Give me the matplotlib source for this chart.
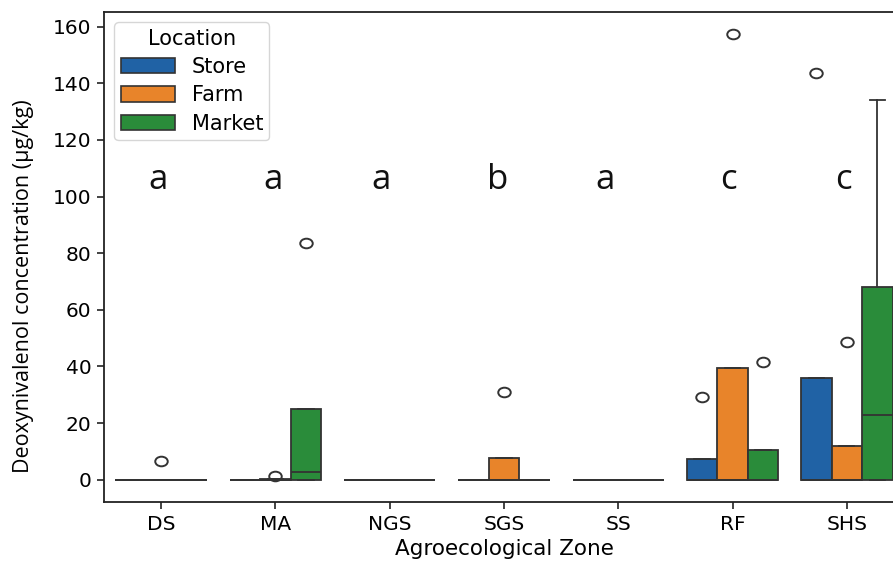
import numpy as np
import matplotlib
matplotlib.use("Agg")
import matplotlib.pyplot as plt
from matplotlib.patches import Patch
from matplotlib.path import Path

# ---------------- data ----------------
zones = ["DS", "MA", "NGS", "SGS", "SS", "RF", "SHS"]
locations = ["Store", "Farm", "Market"]
colors = ["#2062a5", "#e8842a", "#2a8c3a"]

# box summary statistics per location (one value per zone)
store_q1 = [0, 0, 0, 0, 0, 0, 0]
store_med = [0, 0, 0, 0, 0, 0, 0]
store_q3 = [0, 0, 0, 0, 0, 7.2, 35.8]
store_whishi = [0, 0, 0, 0, 0, 7.2, 35.8]
store_fliers = [[], [], [], [], [], [29.1], [143.6]]

farm_q1 = [0, 0, 0, 0, 0, 0, 0]
farm_med = [0, 0, 0, 0, 0, 0, 0]
farm_q3 = [0, 0.3, 0, 7.7, 0, 39.4, 12.0]
farm_whishi = [0, 0.3, 0, 7.7, 0, 39.4, 12.0]
farm_fliers = [[6.7], [1.4], [], [30.8], [], [157.5], [48.5]]

market_q1 = [0, 0, 0, 0, 0, 0, 0]
market_med = [0, 2.8, 0, 0, 0, 0, 23.0]
market_q3 = [0, 25.0, 0, 0, 0, 10.3, 68.0]
market_whishi = [0, 25.0, 0, 0, 0, 10.3, 134.0]
market_fliers = [[], [83.7], [], [], [], [41.5], []]

sig_letters = ["a", "a", "a", "b", "a", "c", "c"]
sig_level = 102.5
sig_offsets = [-0.03, -0.02, -0.08, -0.06, -0.12, -0.04, -0.03]

y_ticks = [0, 20, 40, 60, 80, 100, 120, 140, 160]

series = [
    (store_q1, store_med, store_q3, store_whishi, store_fliers),
    (farm_q1, farm_med, farm_q3, farm_whishi, farm_fliers),
    (market_q1, market_med, market_q3, market_whishi, market_fliers),
]

# ---------------- plot ----------------
W, H = 893, 562
fig = plt.figure(figsize=(W / 100, H / 100), dpi=100)
ax = fig.add_axes([104 / W, 1 - 502 / H, 800 / W, 490 / H])

line_col = "#333333"
lw = 1.3
box_w = 0.8 / 3

circ = Path.unit_circle()
ell = Path(circ.vertices * np.array([1.3, 1.0]), circ.codes)

x = np.arange(len(zones))
for h, (q1, med, q3, whi, fl) in enumerate(series):
    stats = []
    for i in range(len(zones)):
        stats.append(dict(q1=q1[i], med=med[i], q3=q3[i], whislo=q1[i],
                          whishi=whi[i], fliers=fl[i]))
    pos = x + (h - 1) * box_w
    ax.bxp(stats, positions=pos, widths=box_w * 0.999, patch_artist=True,
           showfliers=True, manage_ticks=False,
           boxprops=dict(facecolor=colors[h], edgecolor=line_col, linewidth=lw),
           medianprops=dict(color=line_col, linewidth=lw),
           whiskerprops=dict(color=line_col, linewidth=lw),
           capprops=dict(color=line_col, linewidth=lw),
           flierprops=dict(marker=ell, markersize=9, markerfacecolor="none",
                           markeredgecolor=line_col, markeredgewidth=1.4))

for i, letter in enumerate(sig_letters):
    ax.text(x[i] + sig_offsets[i], sig_level, letter, ha="center", va="baseline",
            fontsize=25, family="Open Sans", color="#111111")

ax.set_xlim(-0.5, len(zones) - 0.5)
ax.set_ylim(-7.9, 165.2)
ax.set_xticks(x)
ax.set_xticklabels(zones)
ax.set_yticks(y_ticks)
ax.tick_params(labelsize=14.5, length=5, width=1.2, color="#222222", pad=4)
for s in ax.spines.values():
    s.set_linewidth(1.3)
    s.set_color("#222222")

ax.set_xlabel("Agroecological Zone", fontsize=15.5, labelpad=4)
ax.set_ylabel("Deoxynivalenol concentration (\u00b5g/kg)", fontsize=15.5,
              family="Open Sans")
ax.yaxis.set_label_coords((34 - 104) / 800, 0.44)

handles = [Patch(facecolor=c, edgecolor=line_col, linewidth=1.2) for c in colors]
leg = ax.legend(handles, locations, title="Location", loc="upper left",
                fontsize=15, title_fontsize=15, handlelength=2.6,
                handleheight=0.75, labelspacing=0.4, borderaxespad=0.5,
                borderpad=0.3, handletextpad=0.8)

fig.savefig("out.png", dpi=100)
